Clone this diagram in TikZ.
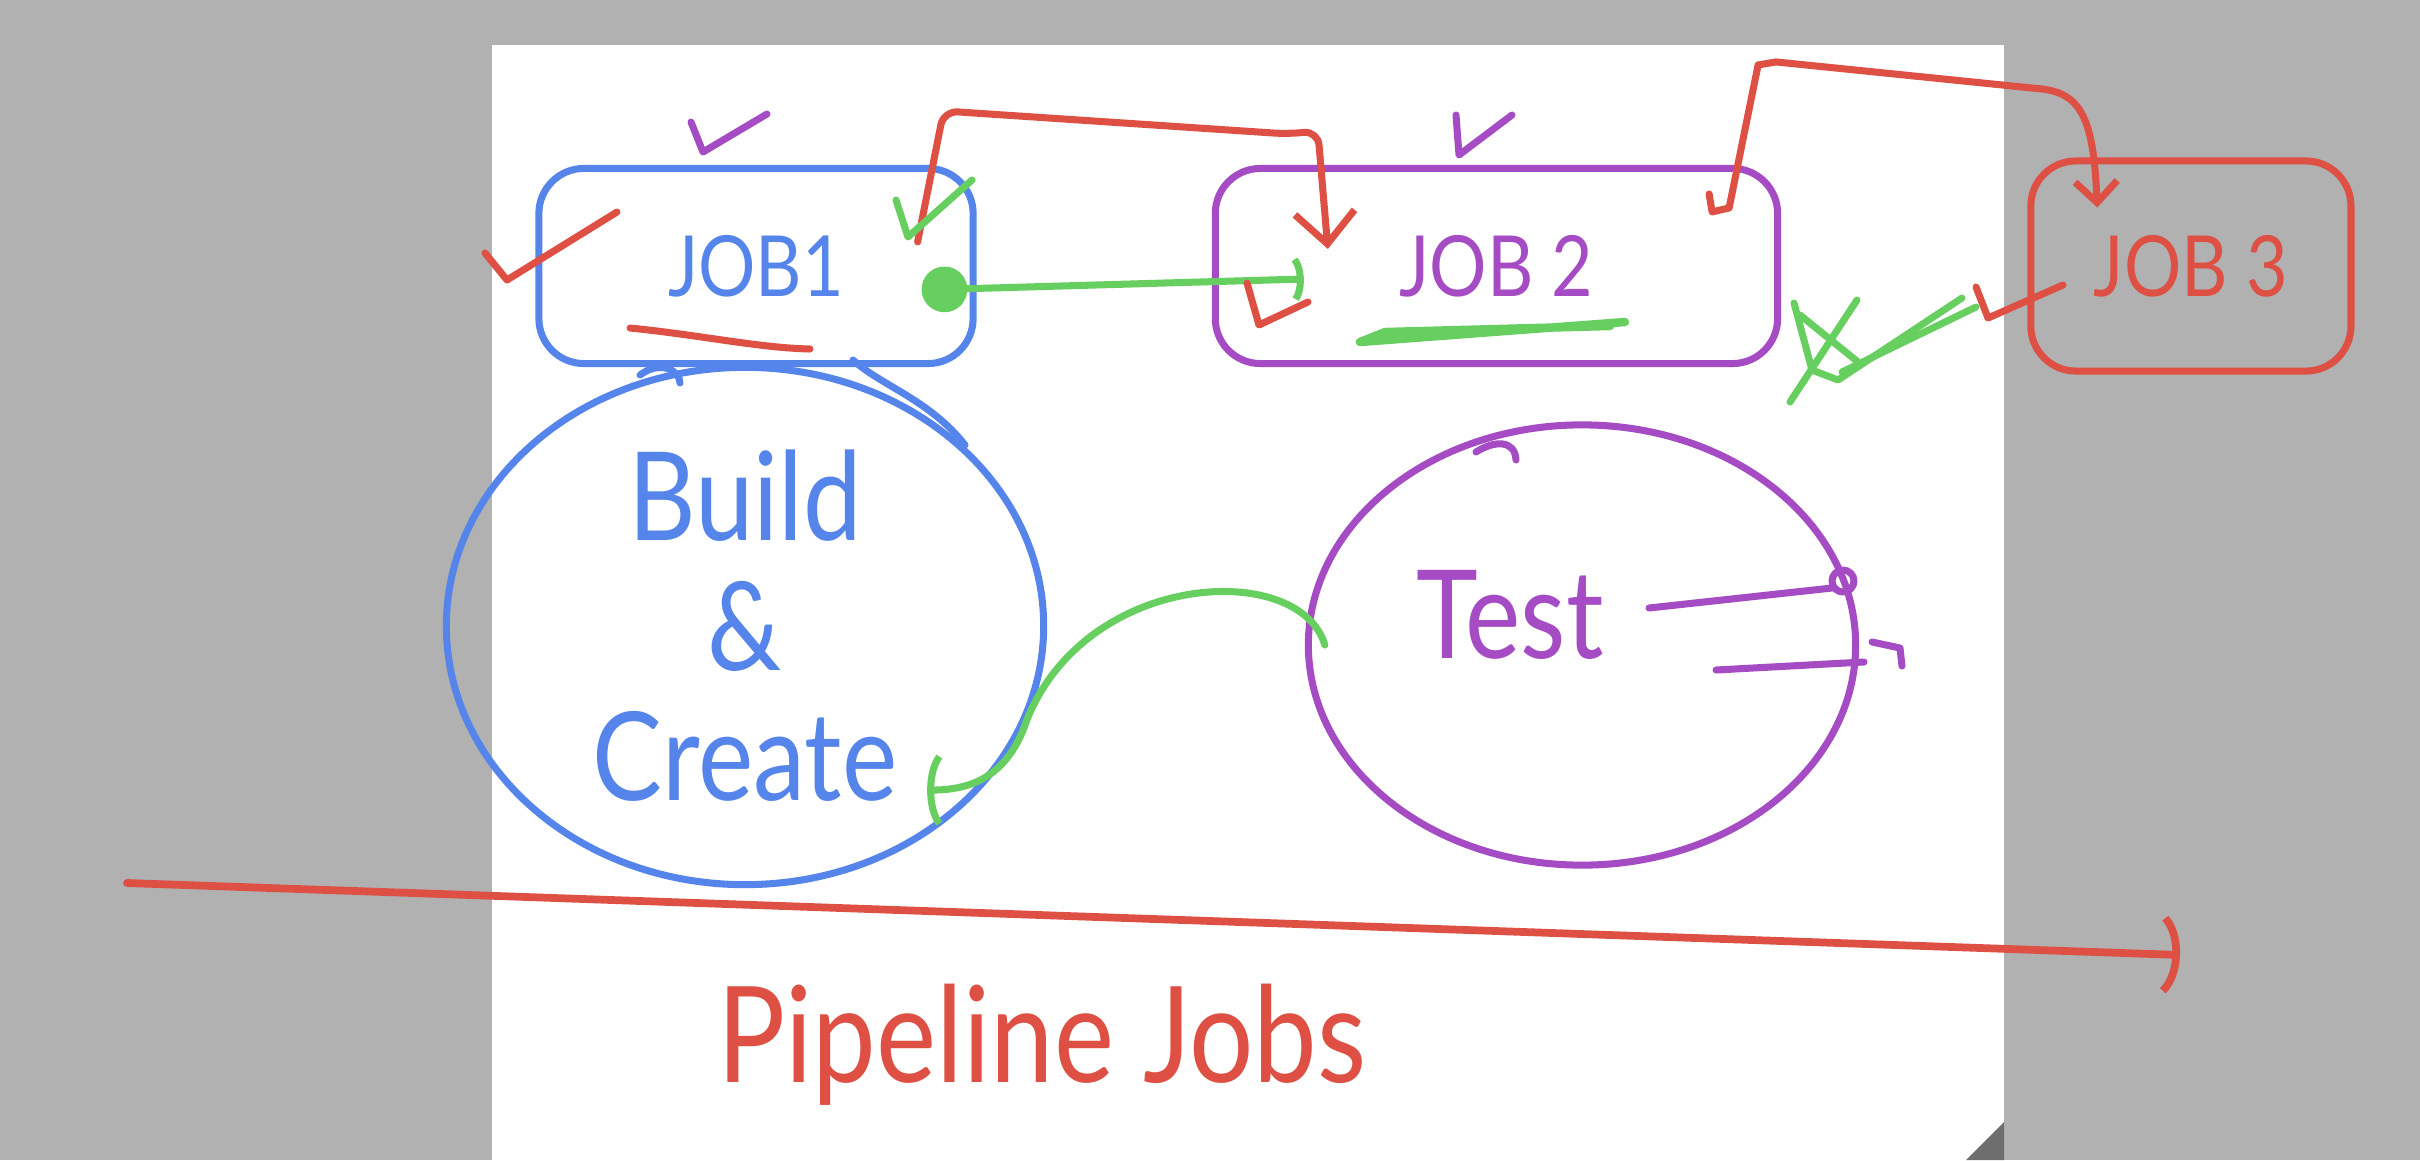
\documentclass[tikz,border=0pt]{standalone}
\usepackage{fontspec}
\setmainfont{Lato}[FakeStretch=0.85]
\usepackage{tikz}
\usetikzlibrary{arrows.meta, calc, positioning, shapes.geometric}

\definecolor{penblue}{HTML}{5585EA}
\definecolor{penpurple}{HTML}{A54CC4}
\definecolor{penred}{HTML}{DE5044}
\definecolor{pengreen}{HTML}{66CF60}
\definecolor{deskgray}{HTML}{B1B1B1}
\definecolor{foldgray}{HTML}{6E6E6E}

\begin{document}
\begin{tikzpicture}[x=0.01cm, y=-0.01cm,
  pen/.style={line width=2pt, line cap=round, line join=round},
  jobbox/.style={draw, pen, rounded corners=0.45cm, minimum height=1.95cm, font=\fontsize{24}{28}\selectfont},
  stage/.style={draw, pen, ellipse, inner sep=0pt, align=center, font=\fontsize{35}{37}\selectfont}]
\fill[deskgray] (0,0) rectangle (2420,1160);
\fill[white] (492,45) rectangle (2004,1160);
\fill[foldgray] (2004,1122) -- (2004,1160) -- (1966,1160) -- cycle;
\useasboundingbox (0,0) rectangle (2420,1160);

\node[jobbox, penblue, minimum width=4.34cm] (job1) at (756,266) {JOB1};
\node[jobbox, penpurple, minimum width=5.62cm, right=2.35cm of job1] (job2) {JOB 2};
\node[jobbox, penred, minimum width=3.2cm, minimum height=2.1cm, right=2.46cm of job2] (job3) {JOB 3};
\node[stage, penblue, minimum width=5.97cm, minimum height=5.17cm] (build) at (745,626) {Build\\\&\\Create};
\node[stage, penpurple, minimum width=5.47cm, minimum height=4.4cm,
  label={[penpurple, font=\fontsize{35}{37}\selectfont, xshift=-0.72cm, yshift=0.3cm]center:Test}] (test) at (1582,645) {};
\node[penred, font=\fontsize{38}{40}\selectfont] (title) at (1042,1045) {Pipeline Jobs};

\coordinate (dot1) at ($(job1.east)+(-0.55cm,-0.24cm)$);
\coordinate (join2) at ($(job2.west)+(0.92cm,-0.13cm)$);
\coordinate (lift1) at ($(job1.north east)+(-0.59cm,-0.77cm)$);
\coordinate (drop2) at ($(job2.north west)+(1.16cm,-0.84cm)$);
\coordinate (lift2) at ($(job2.north east)+(-0.72cm,-0.29cm)$);
\coordinate (drop3) at ($(job3.north west)+(0.7cm,-0.5cm)$);
\coordinate (leave) at ($(test.west)+(0.2cm,0)$);
\coordinate (arrive) at ($(build.east)+(-1.2cm,-1.64cm)$);
\coordinate (flowstart) at (127,883);
\coordinate (flowend) at (2180,955);

\draw[pen, pengreen, {Circle[length=13pt]}-{Parenthesis[length=4pt, width=15pt]}] (dot1) -- (join2);
\draw[pen, penred, rounded corners=4pt, -{Straight Barb[length=9pt, width=17pt]}] (lift1) -- ++(26,-131) -- ($(drop2)+(-40,-115)$) -- ($(drop2)+(-10,-118)$) -- (drop2);
\draw[pen, penred, -{Straight Barb[length=6pt, width=12pt]}] (lift2) -- ++(3,18) -- ++(17,-4) -- ++(29,-143) -- ++(18,-3) -- ($(drop3)+(-61,-119)$) .. controls +(45,3) and +(-4,-90) .. (drop3);
\draw[pen, pengreen, -{Parenthesis[length=6pt, width=24pt]}] (leave) .. controls +(-25,-85) and +(60,-150) .. ++(-298,75) .. controls +(-20,60) and +(40,0) .. (arrive);
\draw[pen, penred, line width=2.2pt, -{Parenthesis[length=8pt, width=26pt]}] (flowstart) -- (flowend);

\draw[pen, penred] (485,253) -- (507,280) -- (617,212);
\draw[pen, penpurple] (691,122) -- (703,152) -- (767,114);
\draw[pen, pengreen] (896,200) -- (908,237) -- (972,180);
\draw[pen, penred] (630,328) .. controls (700,335) and (760,348) .. (810,349);
\draw[pen, penblue] (853,360) .. controls (880,385) and (930,400) .. (965,445);
\draw[pen, penblue] (640,375) .. controls (660,360) and (680,370) .. (680,383);
\draw[pen, penpurple] (1456,115) -- (1459,155) -- (1512,115);
\draw[pen, penred] (1247,283) -- (1259,325) -- (1308,302);
\draw[pen, pengreen, line width=2.4pt] (1625,322) -- (1360,342) -- (1385,332) -- (1610,326);
\draw[pen, penred] (1976,287) -- (1988,318) -- (2063,285);
\draw[pen, pengreen] (1794,303) -- (1812,370) -- (1838,380) -- (1962,298);
\draw[pen, pengreen] (1842,372) -- (1976,307);
\draw[pen, pengreen] (1857,300) -- (1790,402);
\draw[pen, pengreen] (1800,315) -- (1858,362);
\draw[pen, penpurple] (1476,452) .. controls (1495,440) and (1515,440) .. (1516,460);
\draw[pen, penpurple] (1649,608) -- (1832,588);
\draw[pen, penpurple] (1843,581) circle (11);
\draw[pen, penpurple] (1716,670) -- (1864,662);
\draw[pen, penpurple] (1872,642) -- (1900,648) -- (1902,666);
\end{tikzpicture}
\end{document}
